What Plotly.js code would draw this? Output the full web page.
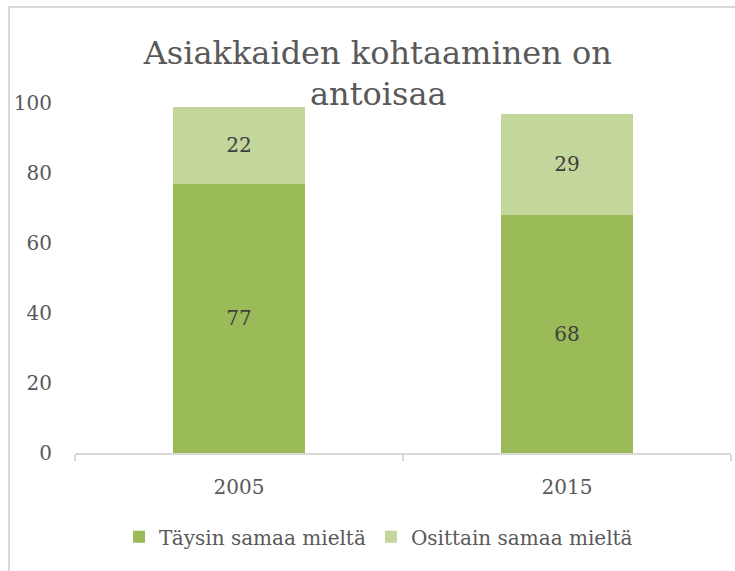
<!DOCTYPE html>
<html>
<head>
<meta charset="utf-8">
<script src="https://cdn.plot.ly/plotly-3.0.1.min.js"></script>
<style>
  html, body { margin: 0; padding: 0; background: #fff; }
  #chart { width: 735px; height: 571px; }
  #frame { position: fixed; left: 8px; top: 6px; width: 740px; height: 580px;
           border-left: 2px solid #d9d9d9; border-top: 2px solid #d9d9d9; pointer-events: none; }
</style>
</head>
<body>
<div id="chart"></div>
<div id="frame"></div>
<script>
const titleLine1 = "Asiakkaiden kohtaaminen on";
const titleLine2 = "antoisaa";
const years = ["2005", "2015"];
const seriesNames = ["Täysin samaa mieltä", "Osittain samaa mieltä"];
const taysin = [77, 68];
const osittain = [22, 29];
const yTicks = [0, 20, 40, 60, 80, 100];

const FONT = "DejaVu Serif";

const traces = [
  {
    type: "bar", name: seriesNames[0], x: years, y: taysin,
    marker: { color: "#9BBB59" },
    text: taysin.map(String), textposition: "inside", insidetextanchor: "middle",
    textfont: { family: FONT, size: 20, color: "#404040" }, hoverinfo: "skip"
  },
  {
    type: "bar", name: seriesNames[1], x: years, y: osittain,
    marker: { color: "#C3D69B" },
    text: osittain.map(String), textposition: "inside", insidetextanchor: "middle",
    textfont: { family: FONT, size: 20, color: "#404040" }, hoverinfo: "skip"
  }
];

const layout = {
  width: 735, height: 571,
  margin: { l: 75, r: 4, t: 103, b: 118 },
  paper_bgcolor: "#ffffff", plot_bgcolor: "#ffffff",
  barmode: "stack", bargap: 0.6,
  font: { family: FONT, color: "#595959" },
  title: {
    text: titleLine1,
    font: { family: FONT, size: 32, color: "#595959" },
    xref: "container", x: 0.514, xanchor: "center",
    yref: "container", y: 0.908, yanchor: "middle"
  },
  annotations: [{
    text: titleLine2, showarrow: false,
    font: { family: FONT, size: 32, color: "#595959" },
    xref: "paper", x: 0.462, xanchor: "center",
    yref: "paper", y: 1.025, yanchor: "middle"
  }],
  xaxis: {
    type: "category",
    showline: true, linecolor: "#d9d9d9", linewidth: 1.5,
    ticks: "outside", tickson: "boundaries", ticklen: 6, tickcolor: "#d9d9d9", tickwidth: 1.5,
    tickfont: { family: FONT, size: 20, color: "#595959" },
    ticklabelstandoff: 15,
    showgrid: false, zeroline: false, fixedrange: true
  },
  yaxis: {
    range: [0, 100], autorange: false,
    tickvals: yTicks, ticktext: yTicks.map(String),
    showline: false, ticks: "", showgrid: false, zeroline: false,
    tickfont: { family: FONT, size: 20, color: "#595959" },
    ticklabelstandoff: 22, fixedrange: true
  },
  legend: {
    orientation: "h",
    xref: "container", x: 0.515, xanchor: "center",
    yref: "container", y: 0.06, yanchor: "middle",
    font: { family: FONT, size: 20, color: "#595959" },
    traceorder: "normal", itemwidth: 30
  },
  showlegend: true
};

Plotly.newPlot("chart", traces, layout, { displayModeBar: false, staticPlot: true });
</script>
</body>
</html>
